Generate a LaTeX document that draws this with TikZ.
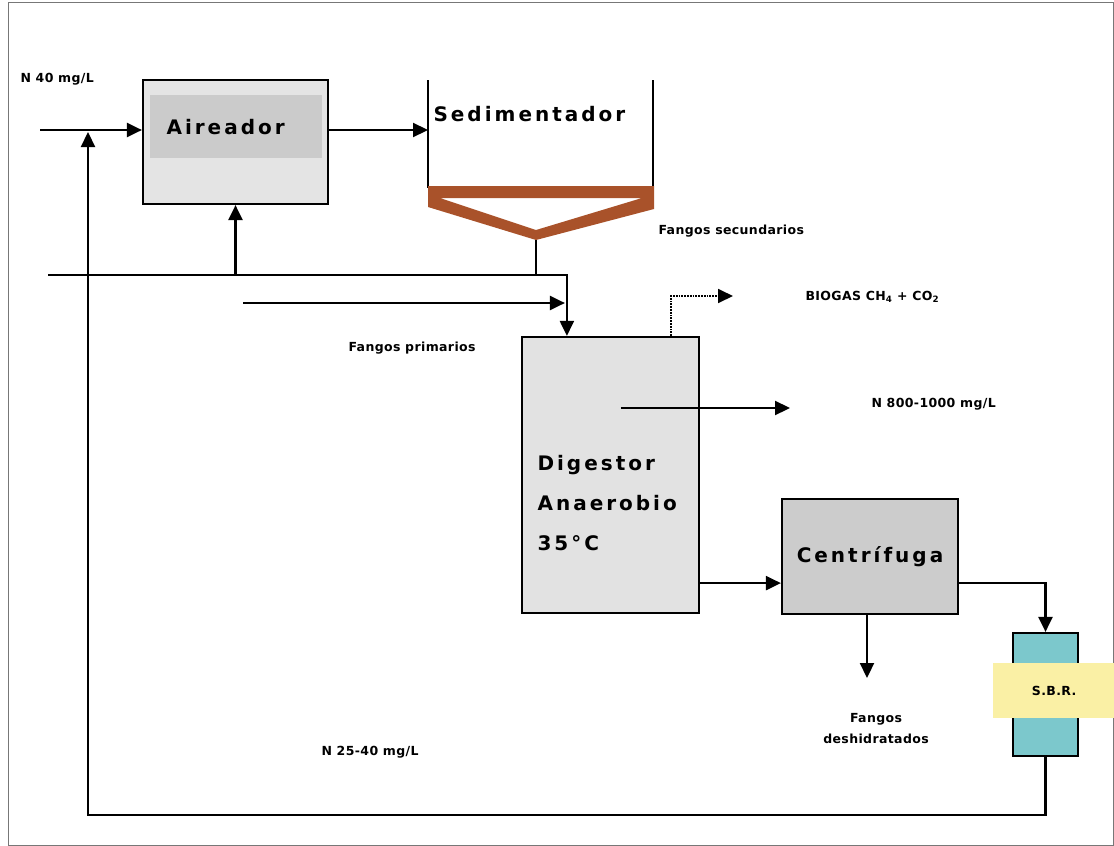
\documentclass[tikz,border=0pt]{standalone}
\usepackage{fontspec}
\setmainfont{DejaVu Sans}
\newfontfamily\unitfont[LetterSpace=15]{DejaVu Sans}
\newfontfamily\labelfont[LetterSpace=3]{DejaVu Sans}
\usetikzlibrary{arrows.meta}
\definecolor{airgray}{HTML}{E4E4E4}
\definecolor{airdark}{HTML}{CBCBCB}
\definecolor{diggray}{HTML}{E2E2E2}
\definecolor{cengray}{HTML}{CCCCCC}
\definecolor{sbrcyan}{HTML}{7CC8CC}
\definecolor{sbryellow}{HTML}{FAF0A5}
\definecolor{sludge}{HTML}{A9522A}
\definecolor{framegray}{HTML}{777777}

\begin{document}
\begin{tikzpicture}[x=1pt,y=-1pt,
  flow/.style={line width=2.2pt,-{Triangle[length=15pt,width=14pt]}},
  pipe/.style={line width=2.2pt},
  unit/.style={draw,line width=2.2pt,inner sep=0pt},
  big/.style={font=\unitfont\bfseries\fontsize{20}{40}\selectfont},
  small/.style={font=\labelfont\bfseries\fontsize{12.5}{21}\selectfont}]
\useasboundingbox (0,0) rectangle (1114,846);
\draw[framegray,line width=1pt] (8,2) rectangle (1113,845);
\node[unit,fill=airgray,minimum width=185pt,minimum height=124pt] (air) at (235.5,142) {};
\node[fill=airdark,minimum width=172pt,minimum height=63pt,inner sep=0pt] (airin) at (236,126.5) {};
\node[big,anchor=west] (airtxt) at (163,127) {Aireador};
\node[unit,fill=diggray,minimum width=177pt,minimum height=276pt] (dig) at (610.5,475) {};
\node[big,anchor=west,align=left] (digtxt) at (534,503) {Digestor\\Anaerobio\\35°C};
\node[unit,fill=cengray,minimum width=176pt,minimum height=115pt,big] (cen) at (870,556.5) {Centrífuga};
\node[unit,fill=sbrcyan,minimum width=65pt,minimum height=123pt] (sbr) at (1045.5,694.5) {};
\node[fill=sbryellow,minimum width=122pt,minimum height=55pt,inner sep=0pt,anchor=west,small] (sbrlbl) at (993,690.5) {S.B.R.};
\coordinate (sedL) at (428,80);
\coordinate (sedR) at (653,80);
\coordinate (sedout) at (536,240);
\coordinate (feed) at (40,130);
\coordinate (ret) at (88,815);
\coordinate (waste) at (48,275);
\coordinate (prim) at (243,303);
\coordinate (biogas) at (733,296);
\coordinate (nout) at (790,408);
\coordinate (dry) at (867,678);
\coordinate (dout) at ([yshift=31pt]dig.south east);
\node[big,anchor=west] (sedtxt) at (430,114) {Sedimentador};
\draw[pipe] (sedL) -- ++(0,108);
\draw[pipe] (sedR) -- ++(0,108);
\fill[sludge,even odd rule] (428,186) -- (654,186) -- (654,209) -- (sedout) -- (428,207) -- cycle
  (440,198) -- (642,198) -- (536,230) -- cycle;
\draw[flow] (feed) -- (feed -| air.west);
\draw[flow] (sbr.south) |- (ret) -- ([yshift=-2pt]ret |- feed);
\draw[flow] (air.east |- feed) -- (sedL |- feed);
\draw[pipe] (sedout) -- (sedout |- waste);
\draw[flow] (waste) -| ([xshift=46pt]dig.north west);
\draw[flow] (air.south |- waste) -- (air.south);
\draw[flow] (prim) -- ([xshift=44pt]dig.north west |- prim);
\draw[line width=1.8pt,densely dotted,-{Triangle[length=15pt,width=14pt]}] ([xshift=150pt]dig.north west) |- (biogas);
\draw[flow] ([xshift=100pt]dig.west |- nout) -- (nout);
\draw[flow] (dout) -- (dout -| cen.west);
\draw[flow] (dry |- cen.south) -- (dry);
\draw[flow] (cen.east |- dout) -| (sbr.north);
\node[small,anchor=west] (nin) at (17,79) {N 40 mg/L};
\node[small,anchor=west] (seclbl) at (655,231) {Fangos secundarios};
\node[small,anchor=west] (primlbl) at (345,348) {Fangos primarios};
\node[small,anchor=west] (bglbl) at (802,297) {BIOGAS CH\textsubscript{4} + CO\textsubscript{2}};
\node[small,anchor=west] (noutlbl) at (868,404) {N 800-1000 mg/L};
\node[small,align=center] (drylbl) at (876,729) {Fangos\\deshidratados};
\node[small,anchor=west] (retlbl) at (318,752) {N 25-40 mg/L};
\end{tikzpicture}
\end{document}
